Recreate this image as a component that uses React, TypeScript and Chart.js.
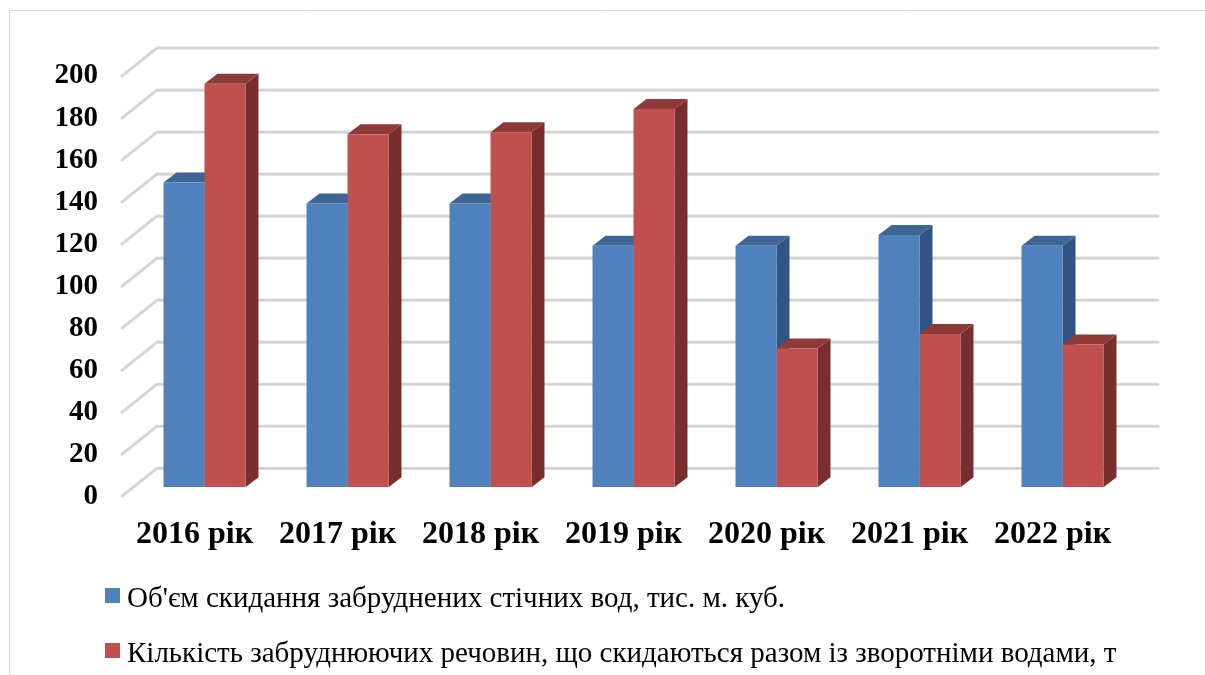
import React, { useEffect, useRef } from "react";
import { Chart, registerables } from "chart.js";

Chart.register(...registerables);

const CATEGORIES = ["2016 рік", "2017 рік", "2018 рік", "2019 рік", "2020 рік", "2021 рік", "2022 рік"];
const SERIES_VOLUME = [145, 135, 135, 115, 115, 120, 115];
const SERIES_POLLUTANTS = [192, 168, 169, 180, 66, 73, 68];
const Y_TICKS = [0, 20, 40, 60, 80, 100, 120, 140, 160, 180, 200];
const LEGEND_LABELS = [
  "Об'єм скидання забруднених стічних вод, тис. м. куб.",
  "Кількість забруднюючих речовин, що скидаються разом із зворотніми водами, т",
];

const FRONT_COLORS = ["#4f81bd", "#c0504d"];
const TOP_COLORS = ["#3e6593", "#8e3a38"];
const SIDE_COLORS = ["#325482", "#782e2e"];

// oblique projection offsets relative to the bars' front plane
const FRONT_DX = -11;
const FRONT_DY = 9;
const BACK_DX = 24;
const BACK_DY = -19;
const BAR_DX = 13;
const BAR_DY = -10;

const SERIF = '"Liberation Serif", "Times New Roman", serif';

const threeDPlugin = {
  id: "threeD",
  beforeDraw(chart: any) {
    const { ctx, width, height } = chart;
    ctx.save();
    ctx.fillStyle = "#ffffff";
    ctx.fillRect(0, 0, width, height);
    ctx.strokeStyle = "#d9d9d9";
    ctx.lineWidth = 1;
    ctx.beginPath();
    ctx.moveTo(9.5, height);
    ctx.lineTo(9.5, 10.5);
    ctx.lineTo(width, 10.5);
    ctx.stroke();
    ctx.restore();
  },
  beforeDatasetsDraw(chart: any) {
    const { ctx, chartArea: ca, scales } = chart;
    const y = scales.y;
    ctx.save();
    ctx.lineJoin = "round";
    ctx.lineCap = "round";
    for (const v of Y_TICKS) {
      const py = y.getPixelForValue(v);
      const path = () => {
        ctx.beginPath();
        ctx.moveTo(ca.left + FRONT_DX, py + FRONT_DY);
        ctx.lineTo(ca.left + BACK_DX, py + BACK_DY);
        ctx.lineTo(ca.right + BACK_DX, py + BACK_DY);
      };
      path();
      ctx.strokeStyle = "#dcdcdc";
      ctx.lineWidth = 3.2;
      ctx.stroke();
      path();
      ctx.strokeStyle = "#cbcbcb";
      ctx.lineWidth = 1;
      ctx.stroke();
    }
    // sides and tops of bars
    const metas = chart.data.datasets.map((_: any, d: number) => chart.getDatasetMeta(d));
    for (let i = 0; i < CATEGORIES.length; i++) {
      metas.forEach((meta: any, d: number) => {
        const el = meta.data[i];
        if (!el) return;
        const { x, y: top, base, width } = el.getProps(["x", "y", "base", "width"], true);
        const left = x - width / 2;
        const right = x + width / 2;
        ctx.fillStyle = SIDE_COLORS[d];
        ctx.beginPath();
        ctx.moveTo(right, top);
        ctx.lineTo(right + BAR_DX, top + BAR_DY);
        ctx.lineTo(right + BAR_DX, base + BAR_DY);
        ctx.lineTo(right, base);
        ctx.closePath();
        ctx.fill();
        ctx.fillStyle = TOP_COLORS[d];
        ctx.beginPath();
        ctx.moveTo(left, top);
        ctx.lineTo(left + BAR_DX, top + BAR_DY);
        ctx.lineTo(right + BAR_DX, top + BAR_DY);
        ctx.lineTo(right, top);
        ctx.closePath();
        ctx.fill();
      });
    }
    ctx.restore();
  },
  afterDraw(chart: any) {
    const { ctx, chartArea: ca, scales } = chart;
    const x = scales.x;
    const y = scales.y;
    ctx.save();
    ctx.fillStyle = "#000000";
    // y tick labels
    ctx.font = `bold 29px ${SERIF}`;
    ctx.textAlign = "right";
    ctx.textBaseline = "middle";
    for (const v of Y_TICKS) {
      ctx.fillText(String(v), ca.left - 35, y.getPixelForValue(v) + FRONT_DY);
    }
    // category labels
    ctx.font = `bold 32px ${SERIF}`;
    ctx.textAlign = "center";
    ctx.textBaseline = "alphabetic";
    CATEGORIES.forEach((c, i) => {
      ctx.fillText(c, x.getPixelForValue(i) + FRONT_DX + 1, ca.bottom + 56);
    });
    // legend
    ctx.font = `29px ${SERIF}`;
    ctx.textAlign = "left";
    LEGEND_LABELS.forEach((label, i) => {
      const by = 588 + i * 55;
      ctx.fillStyle = FRONT_COLORS[i];
      ctx.fillRect(105, by, 15, 15);
      ctx.fillStyle = "#000000";
      ctx.fillText(label, 127, by + 19);
    });
    ctx.restore();
  },
};

export default function App() {
  const canvasRef = useRef<HTMLCanvasElement | null>(null);

  useEffect(() => {
    if (!canvasRef.current) return;
    const chart = new Chart(canvasRef.current, {
      type: "bar",
      data: {
        labels: CATEGORIES,
        datasets: [
          {
            label: LEGEND_LABELS[0],
            data: SERIES_VOLUME,
            backgroundColor: FRONT_COLORS[0],
            borderWidth: 0,
            categoryPercentage: 0.573,
            barPercentage: 1,
          },
          {
            label: LEGEND_LABELS[1],
            data: SERIES_POLLUTANTS,
            backgroundColor: FRONT_COLORS[1],
            borderWidth: 0,
            categoryPercentage: 0.573,
            barPercentage: 1,
          },
        ],
      },
      options: {
        animation: false,
        responsive: false,
        devicePixelRatio: 1,
        layout: { padding: { left: 133, right: 71, top: 67, bottom: 187.7 } },
        plugins: { legend: { display: false }, tooltip: { enabled: false } },
        scales: {
          x: { display: false },
          y: { display: false, min: 0, max: 200 },
        },
      },
      plugins: [threeDPlugin],
    });
    return () => chart.destroy();
  }, []);

  return (
    <div style={{ position: "fixed", left: 0, top: 0, width: 1205, height: 675, background: "#fff" }}>
      <canvas ref={canvasRef} width={1205} height={675} style={{ display: "block" }} />
    </div>
  );
}
